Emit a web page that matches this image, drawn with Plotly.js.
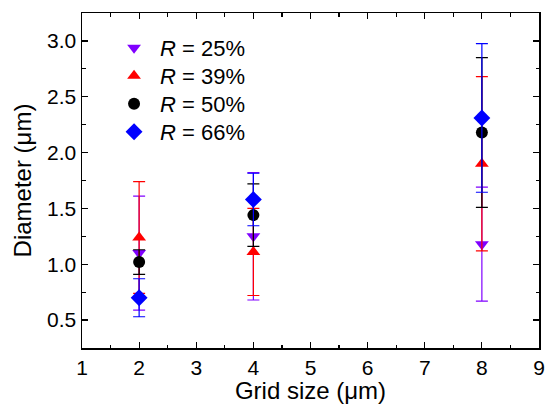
<!DOCTYPE html>
<html>
<head>
<meta charset="utf-8">
<script src="https://cdn.plot.ly/plotly-3.0.1.min.js"></script>
<style>html,body{margin:0;padding:0;background:#fff;}#chart{width:546px;height:404px;}</style>
</head>
<body>
<div id="chart"></div>
<script>
const gridSize = [2, 4, 8];
const seriesNames = ["<i>R</i> = 25%", "<i>R</i> = 39%", "<i>R</i> = 50%", "<i>R</i> = 66%"];
const r25 = [1.10, 1.25, 1.18];
const r25err = [0.51, 0.57, 0.51];
const r39 = [1.24, 1.11, 1.90];
const r39err = [0.50, 0.39, 0.78];
const r50 = [1.02, 1.44, 2.18];
const r50err = [0.11, 0.28, 0.67];
const r66 = [0.70, 1.58, 2.31];
const r66err = [0.17, 0.235, 0.665];

const colors = ["#8000ff", "#ff0000", "#000000", "#0000ff"];
const symbols = ["triangle-down", "triangle-up", "circle", "diamond"];
const ys = [r25, r39, r50, r66];
const errs = [r25err, r39err, r50err, r66err];
const legendIds = ["legend", "legend2", "legend3", "legend4"];
const legendY = [0.8955, 0.812, 0.7284, 0.6448];

const traces = ys.map((y, i) => ({
  type: "scatter",
  mode: "markers",
  x: gridSize,
  y: y,
  name: seriesNames[i],
  legend: legendIds[i],
  marker: {color: colors[i], symbol: symbols[i], size: i === 3 ? 13 : 12, line: {width: 0}},
  error_y: {type: "data", array: errs[i], visible: true, color: colors[i], thickness: 1.2, width: 6}
}));

const font = {family: "Liberation Sans, Arial, sans-serif", color: "#000"};

const layout = {
  width: 546, height: 404,
  margin: {l: 82, r: 7, t: 13, b: 56},
  paper_bgcolor: "#fff", plot_bgcolor: "#fff",
  showlegend: true,
  xaxis: {
    range: [1, 9], dtick: 1, tick0: 1,
    showline: true, linecolor: "#000", linewidth: 1.5, mirror: "ticks",
    ticks: "inside", ticklen: 6, tickwidth: 1.2, tickcolor: "#000",
    minor: {dtick: 0.5, tick0: 1, ticks: "inside", ticklen: 3.5, tickwidth: 1.2, tickcolor: "#000"},
    showgrid: false, zeroline: false,
    tickfont: Object.assign({size: 21}, font),
    title: {text: "Grid size (μm)", font: Object.assign({size: 24}, font), standoff: 4}
  },
  yaxis: {
    range: [0.25, 3.25], dtick: 0.5, tick0: 0.5, tickformat: ".1f",
    showline: true, linecolor: "#000", linewidth: 1.5, mirror: "ticks",
    ticks: "inside", ticklen: 6, tickwidth: 1.2, tickcolor: "#000",
    minor: {dtick: 0.25, tick0: 0.25, ticks: "inside", ticklen: 3.5, tickwidth: 1.2, tickcolor: "#000"},
    showgrid: false, zeroline: false,
    tickfont: Object.assign({size: 21}, font),
    title: {text: "Diameter (μm)", font: Object.assign({size: 24}, font), standoff: 8}
  }
};

legendIds.forEach((id, i) => {
  layout[id] = {x: 0.057, y: legendY[i], xanchor: "left", yanchor: "middle",
                bgcolor: "rgba(0,0,0,0)", font: Object.assign({size: 22}, font),
                itemwidth: 42, tracegroupgap: 0};
});

Plotly.newPlot("chart", traces, layout, {displayModeBar: false, staticPlot: true});
</script>
</body>
</html>
